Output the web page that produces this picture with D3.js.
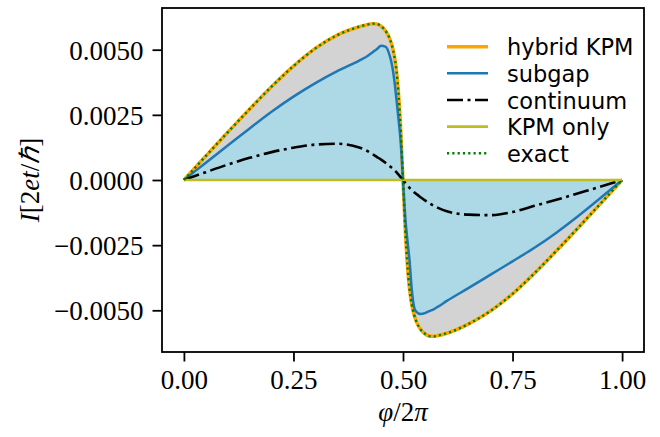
<!DOCTYPE html>
<html>
<head>
<meta charset="utf-8">
<script src="https://cdn.jsdelivr.net/npm/d3@7"></script>
<style>
  body { margin: 0; background: #fff; }
  svg { display: block; }
  .tick text { font-family: "Liberation Serif", serif; font-size: 27px; fill: #000; }
  .legend text { font-family: "DejaVu Sans", sans-serif; font-size: 22.5px; fill: #000; }
  .label { font-family: "Liberation Serif", serif; font-size: 27px; fill: #000; }
</style>
</head>
<body>
<svg id="chart" width="660" height="437"></svg>
<script>
// phase phi/2pi
var phi = [0, 0.05, 0.1, 0.15, 0.2, 0.25, 0.3, 0.35, 0.4, 0.42, 0.43, 0.44, 0.45, 0.46,
  0.47, 0.475, 0.48, 0.485, 0.49, 0.495, 0.5,
  0.505, 0.51, 0.515, 0.52, 0.525, 0.53, 0.54, 0.55, 0.56, 0.57, 0.58, 0.6, 0.65,
  0.7, 0.75, 0.8, 0.85, 0.9, 0.95, 1.0];

// total current (hybrid KPM and exact lie on top of each other)
var exact = [0, 0.00092, 0.00183, 0.00272, 0.00358, 0.00437, 0.00505, 0.00556, 0.00588,
  0.00597, 0.00600, 0.00599, 0.00590, 0.00573, 0.00541, 0.00515, 0.00478, 0.00420,
  0.00325, 0.00185, 0,
  -0.00185, -0.00325, -0.00420, -0.00478, -0.00515, -0.00541, -0.00573, -0.00590,
  -0.00599, -0.00600, -0.00597, -0.00588, -0.00552, -0.00502, -0.00437, -0.00358,
  -0.00272, -0.00183, -0.00092, 0];
var hybridKPM = exact;

var subgap = [0, 0.00066, 0.00132, 0.00198, 0.00262, 0.00320, 0.00372, 0.00418, 0.00458,
  0.00477, 0.00489, 0.00502, 0.00515, 0.00512, 0.00475, 0.00440, 0.00385, 0.00310,
  0.00230, 0.00140, 0,
  -0.00140, -0.00230, -0.00310, -0.00420, -0.00485, -0.00505, -0.00514, -0.00511,
  -0.00503, -0.00496, -0.00486, -0.00464, -0.00414, -0.00363, -0.00312, -0.00260,
  -0.00202, -0.00138, -0.00070, 0];

var continuum = [0, 0.00030, 0.00059, 0.00085, 0.00107, 0.00124, 0.00136, 0.00139, 0.00125,
  0.00110, 0.00100, 0.00089, 0.00078, 0.00066, 0.00053, 0.00046, 0.00038, 0.00030,
  0.00020, 0.00010, 0,
  -0.00010, -0.00020, -0.00030, -0.00038, -0.00046, -0.00053, -0.00066, -0.00078,
  -0.00089, -0.00099, -0.00107, -0.00120, -0.00133, -0.00135, -0.00123, -0.00099,
  -0.00076, -0.00051, -0.00026, 0];

var kpmOnlyPhi = [0, 1];
var kpmOnly = [0, 0];

var xTicks = [0, 0.25, 0.5, 0.75, 1.0];
var yTicks = [-0.005, -0.0025, 0, 0.0025, 0.005];

var legendNames = ['hybrid KPM', 'subgap', 'continuum', 'KPM only', 'exact'];

var margin = {left: 162, top: 8, right: 16, bottom: 85};
var W = 660 - margin.left - margin.right;
var H = 437 - margin.top - margin.bottom;

var svg = d3.select('#chart');
var g = svg.append('g').attr('transform', 'translate(' + margin.left + ',' + margin.top + ')');

// 5% padding like matplotlib
var xPad = 0.05 * (1 - 0);
var yExt = d3.extent(exact);
var yPad = 0.05 * (yExt[1] - yExt[0]);

var x = d3.scaleLinear().domain([0 - xPad, 1 + xPad]).range([0, W]);
var y = d3.scaleLinear().domain([yExt[0] - yPad, yExt[1] + yPad]).range([H, 0]);

function pts(xs, ys) {
  return xs.map(function (d, i) { return [d, ys[i]]; });
}

var area = d3.area()
  .x(function (d) { return x(d[0]); })
  .y0(y(0))
  .y1(function (d) { return y(d[1]); })
  .curve(d3.curveMonotoneX);

var line = d3.line()
  .x(function (d) { return x(d[0]); })
  .y(function (d) { return y(d[1]); })
  .curve(d3.curveMonotoneX);

g.append('path').datum(pts(phi, exact)).attr('d', area).attr('fill', '#d3d3d3');
g.append('path').datum(pts(phi, subgap)).attr('d', area).attr('fill', '#add8e6');

var series = [
  {data: pts(phi, hybridKPM), color: '#ffa500', width: 3.5, dash: null},
  {data: pts(phi, subgap), color: '#1f77b4', width: 2.5, dash: null},
  {data: pts(phi, continuum), color: '#000000', width: 2.6, dash: '16,4.5,3,4.5'},
  {data: pts(kpmOnlyPhi, kpmOnly), color: '#bcbd22', width: 2.6, dash: null},
  {data: pts(phi, exact), color: '#008000', width: 2.4, dash: '2.2,3.1'}
];

g.selectAll('path.series').data(series).enter().append('path')
  .attr('class', 'series')
  .attr('d', function (d) { return line(d.data); })
  .attr('fill', 'none')
  .attr('stroke', function (d) { return d.color; })
  .attr('stroke-width', function (d) { return d.width; })
  .attr('stroke-dasharray', function (d) { return d.dash; });

// axes
var xAxis = g.append('g').attr('transform', 'translate(0,' + H + ')')
  .call(d3.axisBottom(x).tickValues(xTicks).tickFormat(d3.format('.2f')).tickSize(9.5).tickPadding(8));
var yAxis = g.append('g')
  .call(d3.axisLeft(y).tickValues(yTicks).tickFormat(d3.format('.4f')).tickSize(9.5).tickPadding(9));

[xAxis, yAxis].forEach(function (a) {
  a.select('.domain').remove();
  a.selectAll('.tick line').attr('stroke', '#000').attr('stroke-width', 1.8);
});
yAxis.selectAll('.tick text').attr('dy', '0.35em');

g.append('rect').attr('width', W).attr('height', H)
  .attr('fill', 'none').attr('stroke', '#000').attr('stroke-width', 1.8);

// legend
var leg = svg.append('g').attr('class', 'legend').attr('transform', 'translate(447,46.7)');
var rows = leg.selectAll('g').data(series).enter().append('g')
  .attr('transform', function (d, i) { return 'translate(0,' + (i * 26.65) + ')'; });
rows.append('line').attr('x1', 0).attr('x2', 41).attr('y1', 0).attr('y2', 0)
  .attr('stroke', function (d) { return d.color; })
  .attr('stroke-width', function (d) { return d.width; })
  .attr('stroke-dasharray', function (d) { return d.dash; });
rows.append('text').attr('x', 60).attr('y', 8.5)
  .text(function (d, i) { return legendNames[i]; });

// axis labels
var xl = svg.append('text').attr('class', 'label').attr('text-anchor', 'middle')
  .attr('x', margin.left + W / 2).attr('y', 421);
xl.append('tspan').attr('font-style', 'italic').text('φ');
xl.append('tspan').text('/2');
xl.append('tspan').attr('font-style', 'italic').text('π');

var yl = svg.append('text').attr('class', 'label').attr('text-anchor', 'middle')
  .attr('transform', 'translate(39,' + (margin.top + H / 2) + ') rotate(-90)');
yl.append('tspan').attr('font-style', 'italic').text('I');
yl.append('tspan').text('[2');
yl.append('tspan').attr('font-style', 'italic').text('et');
yl.append('tspan').text('/');
yl.append('tspan').attr('font-style', 'italic').text('ℏ');
yl.append('tspan').text(']');
</script>
</body>
</html>
